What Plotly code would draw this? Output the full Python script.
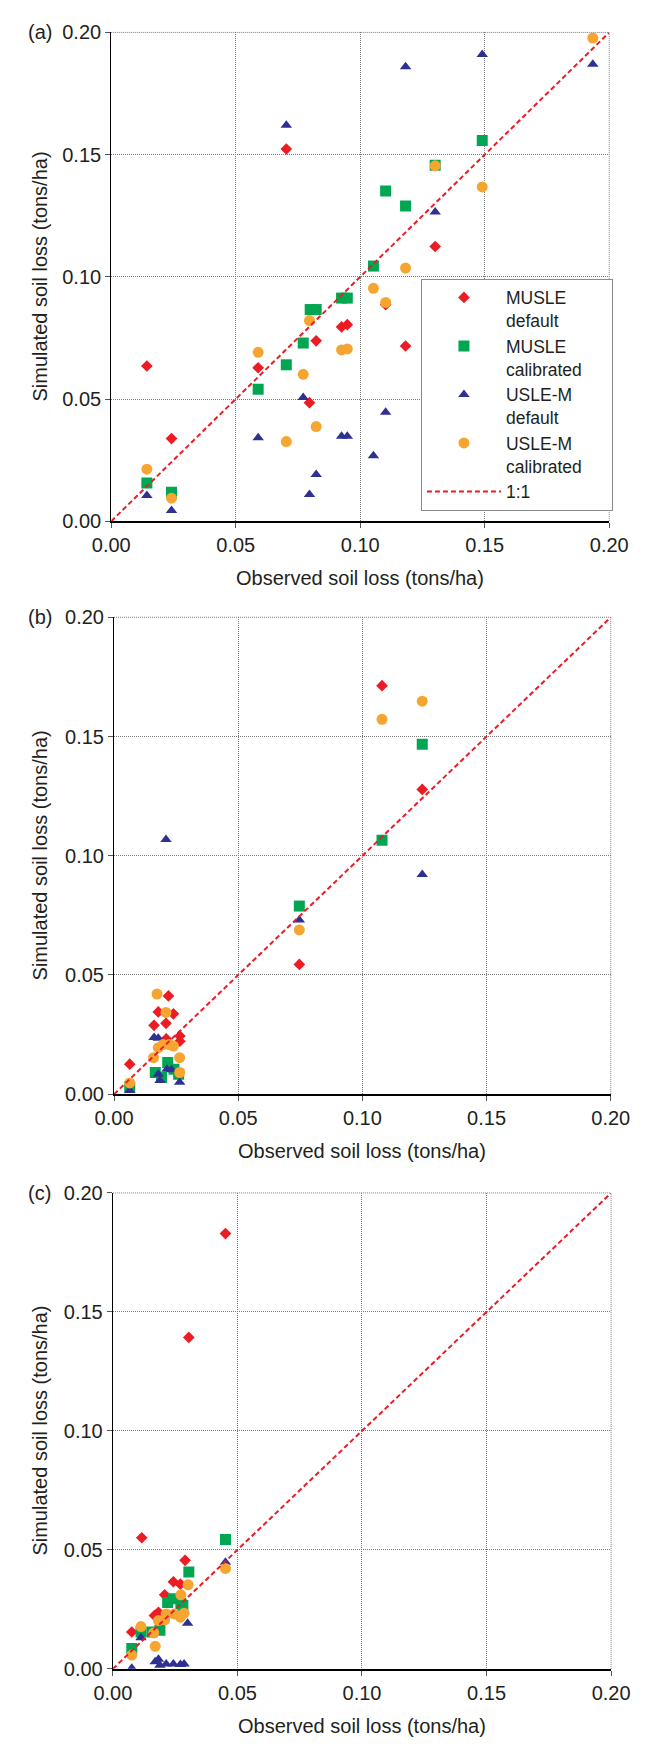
import plotly.graph_objects as go

# ---------------- data ----------------
# Panel (a)
a_musle_def_obs = [0.0143, 0.0242, 0.059, 0.0703, 0.0796, 0.0823, 0.0925, 0.0948, 0.1102, 0.1182, 0.1301]
a_musle_def_sim = [0.0635, 0.0338, 0.0628, 0.1523, 0.0485, 0.0738, 0.0795, 0.0804, 0.0886, 0.0717, 0.1124]
a_musle_cal_obs = [0.0143, 0.0242, 0.059, 0.0703, 0.0771, 0.0799, 0.0823, 0.0925, 0.0948, 0.1053, 0.1102, 0.1182, 0.1301, 0.149]
a_musle_cal_sim = [0.0156, 0.0118, 0.054, 0.064, 0.0729, 0.0866, 0.0866, 0.0913, 0.0913, 0.1044, 0.1351, 0.129, 0.1457, 0.1558]
a_uslem_def_obs = [0.0143, 0.0242, 0.059, 0.0703, 0.0771, 0.0796, 0.0823, 0.0925, 0.0948, 0.1053, 0.1102, 0.1182, 0.1301, 0.149, 0.1934]
a_uslem_def_sim = [0.0105, 0.0044, 0.0341, 0.162, 0.0506, 0.0109, 0.0191, 0.0348, 0.0348, 0.0268, 0.0446, 0.186, 0.1265, 0.191, 0.187]
a_uslem_cal_obs = [0.0143, 0.0242, 0.059, 0.0703, 0.0771, 0.0796, 0.0823, 0.0925, 0.0948, 0.1053, 0.1102, 0.1182, 0.1301, 0.149, 0.1934]
a_uslem_cal_sim = [0.0213, 0.0094, 0.0691, 0.0326, 0.0601, 0.0821, 0.0387, 0.0701, 0.0705, 0.0953, 0.0895, 0.1036, 0.1454, 0.1368, 0.1977]

# Panel (b)
b_musle_def_obs = [0.0063, 0.0161, 0.0178, 0.0209, 0.0219, 0.0239, 0.0265, 0.0265, 0.0210, 0.0746, 0.1079, 0.1241]
b_musle_def_sim = [0.0126, 0.0289, 0.0345, 0.0297, 0.0412, 0.0337, 0.0244, 0.0222, 0.0232, 0.0544, 0.1713, 0.1278]
b_musle_cal_obs = [0.0063, 0.0166, 0.0191, 0.0216, 0.0241, 0.0260, 0.0746, 0.1079, 0.1241]
b_musle_cal_sim = [0.0030, 0.0091, 0.0070, 0.0133, 0.0105, 0.0084, 0.0789, 0.1065, 0.1468]
b_uslem_def_obs = [0.0063, 0.0161, 0.0178, 0.0178, 0.0185, 0.0213, 0.0231, 0.0264, 0.0209, 0.0746, 0.1241]
b_uslem_def_sim = [0.0015, 0.0238, 0.0235, 0.0084, 0.0057, 0.0105, 0.0102, 0.0050, 0.1068, 0.0731, 0.0921]
b_uslem_cal_obs = [0.0063, 0.0173, 0.0209, 0.0159, 0.0178, 0.0197, 0.0222, 0.0239, 0.0264, 0.0264, 0.0746, 0.1079, 0.1241]
b_uslem_cal_sim = [0.0047, 0.0420, 0.0343, 0.0153, 0.0195, 0.0208, 0.0208, 0.0202, 0.0153, 0.0091, 0.0689, 0.1572, 0.1648]

# Panel (c)
c_musle_def_obs = [0.0076, 0.0116, 0.0167, 0.0183, 0.0208, 0.0243, 0.0271, 0.0290, 0.0305, 0.0452]
c_musle_def_sim = [0.0155, 0.0551, 0.0224, 0.0238, 0.0311, 0.0366, 0.0356, 0.0456, 0.1393, 0.1829]
c_musle_cal_obs = [0.0076, 0.0113, 0.0157, 0.0189, 0.0220, 0.0243, 0.0273, 0.0281, 0.0305, 0.0452]
c_musle_cal_sim = [0.0086, 0.0155, 0.0155, 0.0162, 0.0279, 0.0295, 0.0275, 0.0266, 0.0407, 0.0544]
c_uslem_def_obs = [0.0076, 0.0113, 0.0170, 0.0183, 0.0189, 0.0214, 0.0243, 0.0271, 0.0286, 0.0300, 0.0452]
c_uslem_def_sim = [0.0003, 0.0131, 0.0030, 0.0040, 0.0015, 0.0020, 0.0020, 0.0018, 0.0020, 0.0192, 0.0448]
c_uslem_cal_obs = [0.0076, 0.0113, 0.0164, 0.0170, 0.0183, 0.0208, 0.0214, 0.0246, 0.0271, 0.0273, 0.0286, 0.0302, 0.0452]
c_uslem_cal_sim = [0.0058, 0.0178, 0.0151, 0.0095, 0.0203, 0.0206, 0.0231, 0.0231, 0.0217, 0.0311, 0.0234, 0.0353, 0.0422]

one_to_one = [0.0, 0.2]
tick_vals = [0.0, 0.05, 0.10, 0.15, 0.20]
tick_text = ["0.00", "0.05", "0.10", "0.15", "0.20"]
series_names = ["MUSLE<br>default", "MUSLE<br>calibrated", "USLE-M<br>default", "USLE-M<br>calibrated"]
panel_labels = ["(a)", "(b)", "(c)"]
x_title = "Observed soil loss (tons/ha)"
y_title = "Simulated soil loss (tons/ha)"

# ---------------- style ----------------
FONT = "Liberation Sans, Arial, sans-serif"
FS = 20
LEG_FS = 17.5
TXT = "#231f20"
GRID = "#7a7a7a"
COLORS = ["#ec1c24", "#00a651", "#2e3192", "#f7a531"]
SYMBOLS = ["diamond", "square", "triangle-up", "circle"]
SIZES = [9, 11, 10, 11]
LINE_RED = "#ec1c24"
PAD = "\u00a0" * 5   # widen legend box to match the reference

W, H = 648, 1748
# plot-area pixel boxes: (left, right, top, bottom)
boxes = [(98, 627, 21.7, 516.7), (101, 628.6, 614, 1097), (99.7, 629, 1197, 1679)]

panels = [
    [(a_musle_def_obs, a_musle_def_sim), (a_musle_cal_obs, a_musle_cal_sim),
     (a_uslem_def_obs, a_uslem_def_sim), (a_uslem_cal_obs, a_uslem_cal_sim)],
    [(b_musle_def_obs, b_musle_def_sim), (b_musle_cal_obs, b_musle_cal_sim),
     (b_uslem_def_obs, b_uslem_def_sim), (b_uslem_cal_obs, b_uslem_cal_sim)],
    [(c_musle_def_obs, c_musle_def_sim), (c_musle_cal_obs, c_musle_cal_sim),
     (c_uslem_def_obs, c_uslem_def_sim), (c_uslem_cal_obs, c_uslem_cal_sim)],
]

fig = go.Figure()
layout_axes = {}
annotations = []
shapes = []

for p, (series, box) in enumerate(zip(panels, boxes)):
    l, r, t, b = box
    xs = "" if p == 0 else str(p + 1)
    xa, ya = "x" + xs, "y" + xs
    for k, (ox, sy) in enumerate(series):
        nm = series_names[k] + (PAD if "calibrated" in series_names[k] else "")
        fig.add_trace(go.Scatter(
            x=ox, y=sy, mode="markers", name=nm,
            xaxis=xa, yaxis=ya, showlegend=(p == 0), legendrank=k + 1,
            marker=dict(symbol=SYMBOLS[k], color=COLORS[k], size=SIZES[k], line=dict(width=0)),
        ))
    fig.add_trace(go.Scatter(
        x=one_to_one, y=one_to_one, mode="lines", name="1:1",
        xaxis=xa, yaxis=ya, showlegend=(p == 0), legendrank=5,
        line=dict(color=LINE_RED, width=2, dash="5px,3px"),
    ))
    common = dict(
        range=[0, 0.2], tickvals=tick_vals, ticktext=tick_text,
        showgrid=True, gridcolor=GRID, griddash="1px,1px", gridwidth=1,
        ticks="outside", ticklen=5, tickcolor="#555555",
        tickfont=dict(family=FONT, size=FS, color=TXT),
        zeroline=False, showline=True, linecolor="#000000", fixedrange=True,
        layer="below traces",
    )
    layout_axes["xaxis" + xs] = dict(common, domain=[l / W, r / W], anchor=ya, linewidth=1.6)
    layout_axes["yaxis" + xs] = dict(common, domain=[1 - b / H, 1 - t / H], anchor=xa, linewidth=1.2)
    # dotted frame on top and right (grid at 0.20)
    shapes.append(dict(type="line", xref=xa + " domain", yref=ya + " domain",
                       x0=0, x1=1, y0=1, y1=1, layer="below",
                       line=dict(color=GRID, width=1, dash="1px,1px")))
    shapes.append(dict(type="line", xref=xa + " domain", yref=ya + " domain",
                       x0=1, x1=1, y0=0, y1=1, layer="below",
                       line=dict(color=GRID, width=1, dash="1px,1px")))
    annotations.append(dict(text=x_title, x=((l + r) / 2) / W, y=1 - (b + 58) / H,
                            xref="paper", yref="paper", showarrow=False,
                            xanchor="center", yanchor="middle",
                            font=dict(family=FONT, size=FS, color=TXT)))
    annotations.append(dict(text=y_title, x=22 / W, y=1 - ((t + b) / 2) / H, textangle=-90,
                            xref="paper", yref="paper", showarrow=False,
                            xanchor="center", yanchor="middle",
                            font=dict(family=FONT, size=FS, color=TXT)))
    annotations.append(dict(text=panel_labels[p], x=22 / W, y=1 - t / H,
                            xref="paper", yref="paper", showarrow=False,
                            xanchor="center", yanchor="middle",
                            font=dict(family=FONT, size=FS, color=TXT)))

fig.update_layout(
    width=W, height=H, margin=dict(l=0, r=0, t=0, b=0),
    paper_bgcolor="white", plot_bgcolor="white",
    showlegend=True,
    legend=dict(x=427 / W, y=1 - 271 / H, xanchor="left", yanchor="top",
                bgcolor="white", bordercolor="#8a8a8a", borderwidth=1,
                font=dict(family=FONT, size=LEG_FS, color=TXT),
                valign="top", tracegroupgap=0, itemwidth=74),
    annotations=annotations,
    shapes=shapes,
    **layout_axes,
)

fig.write_html("out.html")
